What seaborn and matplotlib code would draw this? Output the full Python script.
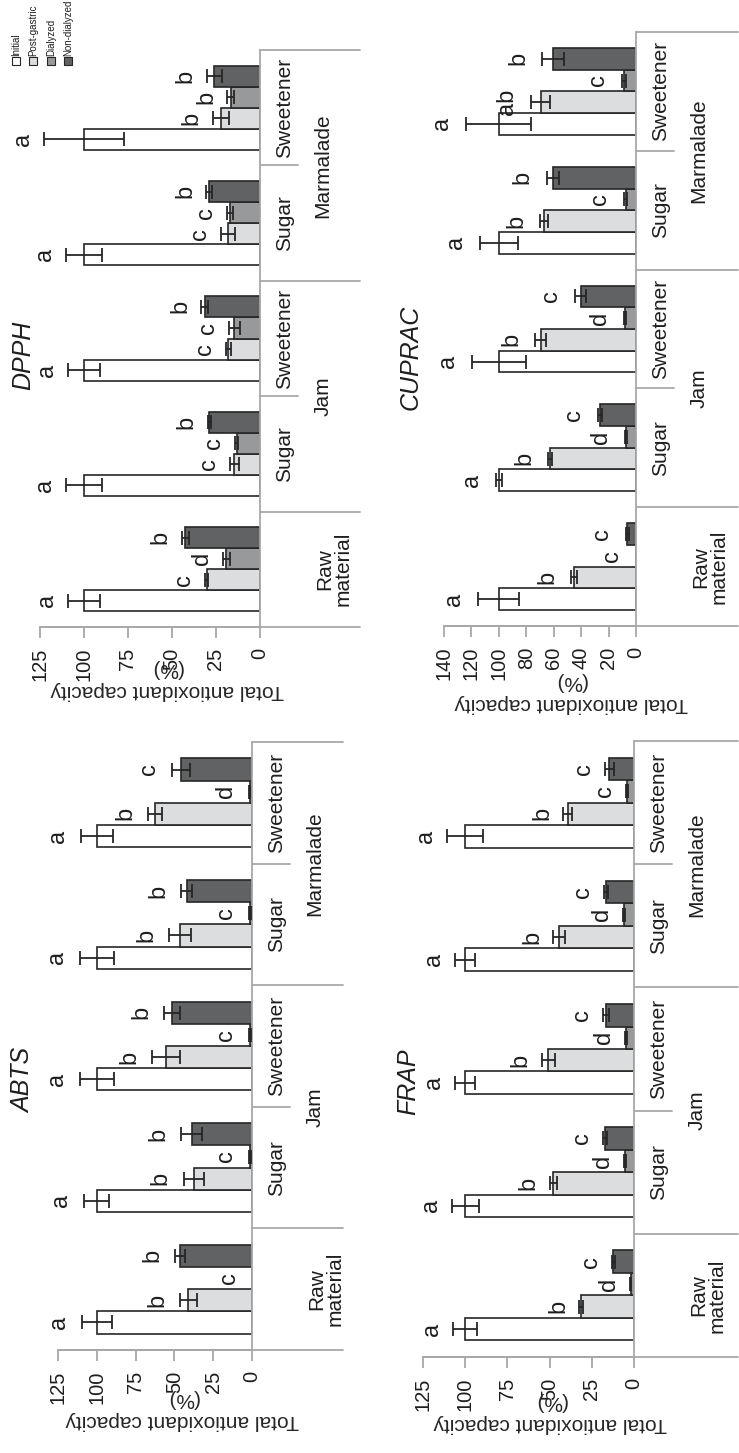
import numpy as np
import pandas as pd
import matplotlib
matplotlib.use("Agg")
import matplotlib.pyplot as plt
import seaborn as sns
from matplotlib.patches import Rectangle
from matplotlib import font_manager

sns.set_theme(style="white")
plt.rcParams['font.family'] = ['Liberation Sans', 'DejaVu Sans']
plt.rcParams['text.color'] = '#1e1e1e'

# ---------------- data ----------------
categories = ["Raw material", "Jam Sugar", "Jam Sweetener", "Marmalade Sugar", "Marmalade Sweetener"]
inner_labels = ["Sugar", "Sweetener", "Sugar", "Sweetener"]
outer_labels = ["Jam", "Marmalade"]
raw_label = "Raw\nmaterial"
phases = ["Initial", "Post-gastric", "Dialyzed", "Non-dialyzed"]
phase_colors = ["#ffffff", "#dcdddf", "#98999b", "#616264"]

# rows = phases, columns = categories
dpph_values = [[100, 100, 100, 100, 100],
               [30.3, 14.6, 18.0, 18.0, 22.2],
               [19.3, 13.3, 14.6, 17.0, 16.7],
               [42.6, 28.8, 31.3, 29.0, 26.0]]
dpph_errors = [[9, 10, 9, 10, 23],
               [1.0, 2.7, 1.5, 4.0, 4.7],
               [2.0, 1.0, 3.0, 1.5, 2.0],
               [2.0, 1.0, 2.0, 1.5, 4.3]]
dpph_letters = [["a", "a", "a", "a", "a"],
                ["c", "c", "c", "c", "b"],
                ["d", "c", "c", "c", "b"],
                ["b", "b", "b", "b", "b"]]

abts_values = [[100, 100, 100, 100, 100],
               [41.0, 37.4, 55.4, 46.4, 62.5],
               [0.0, 1.2, 1.2, 1.2, 1.5],
               [46.4, 38.9, 51.7, 42.0, 45.7]]
abts_errors = [[9.5, 8, 11, 11, 10.5],
               [5.4, 6.7, 9.0, 7.0, 4.3],
               [0.0, 0.5, 0.5, 0.5, 0.5],
               [3.2, 6.8, 5.0, 3.5, 6.0]]
abts_letters = [["a", "a", "a", "a", "a"],
                ["b", "b", "b", "b", "b"],
                ["c", "c", "c", "c", "d"],
                ["b", "b", "b", "b", "c"]]

cuprac_values = [[100, 100, 100, 100, 100],
                 [45.2, 62.7, 69.5, 67.0, 69.5],
                 [0.0, 7.3, 8.0, 7.6, 8.5],
                 [6.3, 26.3, 40.4, 60.8, 60.3]]
cuprac_errors = [[15, 2.4, 19.5, 13.6, 23.7],
                 [2.0, 1.5, 3.8, 3.0, 7.0],
                 [0.0, 0.8, 1.0, 1.0, 1.5],
                 [1.0, 1.2, 4.3, 4.3, 8.0]]
cuprac_letters = [["a", "a", "a", "a", "a"],
                  ["b", "b", "b", "b", "ab"],
                  ["c", "d", "d", "c", "c"],
                  ["c", "c", "c", "b", "b"]]

frap_values = [[100, 100, 100, 100, 100],
               [31.4, 47.7, 50.7, 44.4, 39.3],
               [2.0, 5.3, 4.7, 5.9, 4.3],
               [12.2, 17.2, 16.6, 16.6, 14.6]]
frap_errors = [[7, 8, 6, 6, 10.8],
               [1.0, 2.2, 4.0, 3.6, 2.5],
               [0.3, 0.8, 0.8, 0.6, 0.5],
               [1.0, 1.3, 1.5, 1.0, 2.5]]
frap_letters = [["a", "a", "a", "a", "a"],
                ["b", "b", "b", "b", "b"],
                ["d", "d", "d", "d", "c"],
                ["c", "c", "c", "c", "c"]]

ticks_125 = [0, 25, 50, 75, 100, 125]
ticks_140 = [0, 20, 40, 60, 80, 100, 120, 140]
ylabel_text = "Total antioxidant capacity\n(%)"

# ---------------- layout (pixels) ----------------
W, H = 739, 1453
fig = plt.figure(figsize=(W / 100, H / 100), dpi=100)

GRAY = "#a8a8a8"
DARK = "#262626"

panels = [
    dict(title="DPPH", values=dpph_values, errors=dpph_errors, letters=dpph_letters,
         box=(40, 260, 50, 627), xmax=125, ticks=ticks_125, end=360,
         title_xy=(23, 355), label_xy=(167, 659), gap=21),
    dict(title="ABTS", values=abts_values, errors=abts_errors, letters=abts_letters,
         box=(58, 252, 742, 1350), xmax=125, ticks=ticks_125, end=343,
         title_xy=(23, 1080), label_xy=(182, 1389), gap=23),
    dict(title="CUPRAC", values=cuprac_values, errors=cuprac_errors, letters=cuprac_letters,
         box=(444, 636, 32, 626), xmax=140, ticks=ticks_140, end=738,
         title_xy=(411, 357), label_xy=(571, 672), gap=24),
    dict(title="FRAP", values=frap_values, errors=frap_errors, letters=frap_letters,
         box=(423, 634, 741, 1357), xmax=125, ticks=ticks_125, end=738,
         title_xy=(408, 1082), label_xy=(550, 1392), gap=21),
]

for p in panels:
    x0, x1, y0, y1 = p["box"]
    wpx = x1 - x0
    ax = fig.add_axes([x0 / W, 1 - y1 / H, wpx / W, (y1 - y0) / H])

    rows = []
    for hi, ph in enumerate(phases):
        for ci, cat in enumerate(categories):
            rows.append({"category": cat, "phase": ph, "value": p["values"][hi][ci]})
    df = pd.DataFrame(rows)

    sns.barplot(data=df, x="value", y="category", hue="phase", order=categories,
                hue_order=phases, palette=phase_colors, orient="h", width=0.73,
                saturation=1, edgecolor=DARK, linewidth=1.2, errorbar=None,
                legend=False, ax=ax)

    ax.set_xlim(p["xmax"], 0)
    ax.set_ylim(-0.5, 4.5)

    bar_containers = list(ax.containers)
    # error bars + significance letters
    for hi, cont in enumerate(bar_containers):
        for ci, bar in enumerate(cont.patches):
            yc = bar.get_y() + bar.get_height() / 2
            v = bar.get_width()
            e = p["errors"][hi][ci]
            if e > 0:
                ax.errorbar(v, yc, xerr=e, fmt="none", ecolor=DARK, elinewidth=1.3,
                            capsize=5, capthick=1.3, zorder=4)
            ax.annotate(p["letters"][hi][ci], xy=(v + e, yc), xytext=(-p["gap"], 0),
                        textcoords="offset pixels", rotation=90, ha="center",
                        va="center", fontsize=17, annotation_clip=False)

    # spines / ticks
    for s in ["top", "left"]:
        ax.spines[s].set_visible(False)
    for s in ["right", "bottom"]:
        ax.spines[s].set_color(GRAY)
        ax.spines[s].set_linewidth(1.3)
    ax.set_yticks([])
    ax.set_ylabel("")
    ax.set_xticks(p["ticks"])
    ax.set_xticklabels([str(t) for t in p["ticks"]])
    ax.tick_params(axis="x", bottom=True, direction="out", length=8, width=1.3,
                   color=GRAY, labelsize=14.5, labelrotation=90, pad=7,
                   labelcolor="#1e1e1e")
    ax.set_xlabel(ylabel_text, rotation=180, fontsize=15, linespacing=1.2)
    lx, ly = p["label_xy"]
    ax.xaxis.set_label_coords(lx / W, 1 - ly / H, transform=fig.transFigure)

    # multi-level category axis
    tr = ax.get_yaxis_transform()
    ext = 1 + (p["end"] - x1) / wpx
    ax.plot([0, ext], [-0.5, -0.5], transform=tr, color=GRAY, lw=1.3, clip_on=False)
    for yl in [0.5, 2.5, 4.5]:
        ax.plot([1, ext], [yl, yl], transform=tr, color=GRAY, lw=1.3, clip_on=False)
    for yl in [1.5, 3.5]:
        ax.plot([1, 1 + 38 / wpx], [yl, yl], transform=tr, color=GRAY, lw=1.3, clip_on=False)
    for ci, lab in enumerate(inner_labels, start=1):
        ax.text(1 + 25 / wpx, ci, lab, transform=tr, rotation=90, ha="center",
                va="center", fontsize=15)
    for k, lab in enumerate(outer_labels):
        ax.text(1 + 63 / wpx, 1.5 + 2 * k, lab, transform=tr, rotation=90, ha="center",
                va="center", fontsize=15)
    ax.text(1 + 74 / wpx, 0, raw_label, transform=tr, rotation=90, ha="center",
            va="center", fontsize=15, multialignment="center", linespacing=1.0)

    tx, ty = p["title_xy"]
    fig.text(tx / W, 1 - ty / H, p["title"], rotation=90, style="italic",
             ha="center", va="center", fontsize=18)

# legend (rotated)
installed = {f.name for f in font_manager.fontManager.ttflist}
if "Liberation Sans Narrow" in installed:
    leg_family, leg_size = ["Liberation Sans Narrow", "DejaVu Sans"], 8.5
else:
    leg_family, leg_size = ["Liberation Sans", "DejaVu Sans"], 7.0
leg_x = [16, 33, 51, 68]
for i, (ph, col) in enumerate(zip(phases, phase_colors)):
    fig.patches.append(Rectangle(((leg_x[i] - 4) / W, 1 - 65 / H), 8 / W, 8 / H,
                                 transform=fig.transFigure, facecolor=col,
                                 edgecolor=DARK, lw=0.8))
    fig.text(leg_x[i] / W, 1 - 56 / H, ph, rotation=90, ha="center", va="bottom",
             fontsize=leg_size, family=leg_family)

fig.savefig("out.png", dpi=100)
